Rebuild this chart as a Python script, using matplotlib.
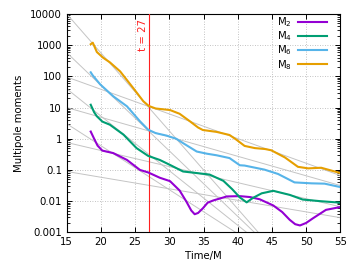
import numpy as np
import matplotlib
matplotlib.use("Agg")
import matplotlib.pyplot as plt

# multipole moments (time, log10 value)
t_m8 = [18.5, 18.8, 19.4, 20.3, 21.3, 22.8, 24.7, 26.2, 27.0, 28.0, 30.1, 31.5, 33.0, 34.2, 34.9,
        36.9, 38.8, 39.8, 41.0, 42.5, 44.0, 44.9, 46.9, 48.8, 50.3, 52.2, 55.0]
lg_m8 = [3.03, 3.08, 2.78, 2.60, 2.45, 2.16, 1.63, 1.20, 1.05, 0.97, 0.92, 0.80, 0.56, 0.36, 0.28,
         0.22, 0.12, -0.03, -0.23, -0.30, -0.33, -0.37, -0.60, -0.90, -0.95, -0.93, -1.10]

t_m6 = [18.5, 18.8, 19.9, 21.8, 23.8, 25.7, 26.9, 28.0, 29.6, 31.0, 32.0, 34.0, 35.5, 36.9,
        38.8, 40.3, 41.0, 43.9, 45.9, 48.3, 50.8, 52.7, 55.0]
lg_m6 = [2.13, 2.03, 1.74, 1.36, 1.04, 0.56, 0.29, 0.18, 0.10, 0.0, -0.14, -0.41, -0.48, -0.53,
         -0.62, -0.85, -0.86, -0.99, -1.13, -1.40, -1.43, -1.44, -1.55]

t_m4 = [18.5, 19.0, 19.4, 20.2, 21.3, 23.3, 25.2, 26.9, 28.6, 30.1, 32.0, 34.0, 35.9, 37.9, 39.2,
        40.3, 41.3, 42.2, 43.5, 45.2, 47.6, 49.5, 52.0, 55.0]
lg_m4 = [1.09, 0.85, 0.72, 0.55, 0.45, 0.13, -0.30, -0.55, -0.68, -0.84, -1.05, -1.10, -1.15, -1.35, -1.62,
         -1.88, -2.04, -1.90, -1.75, -1.67, -1.80, -1.95, -2.00, -2.05]

t_m2 = [18.5, 19.0, 19.5, 20.2, 21.8, 23.8, 25.7, 26.9, 28.6, 30.1, 31.5, 32.5, 33.2, 33.7, 34.2,
        34.9, 35.6, 36.4, 38.4, 40.3, 41.8, 43.2, 45.2, 46.5, 47.6, 48.4, 49.1, 50.0, 51.0,
        52.9, 55.0]
lg_m2 = [0.23, 0.0, -0.22, -0.38, -0.46, -0.68, -1.0, -1.08, -1.25, -1.36, -1.66, -2.02, -2.30, -2.42, -2.38,
         -2.23, -2.05, -1.98, -1.85, -1.84, -1.87, -1.94, -2.14, -2.35, -2.60, -2.74, -2.78, -2.70, -2.55,
         -2.28, -2.19]

# exponential fits: log10 value at t=15 and decay (dex per unit time)
fit_start = [4.0, 2.76, 1.60, 0.48, 1.98, 1.00, -0.12, -1.05]
fit_rate = [0.25, 0.21, 0.175, 0.141, 0.079, 0.0625, 0.0515, 0.037]

t_mark = 27
labels = ["M$_2$", "M$_4$", "M$_6$", "M$_8$"]
colors = ["#9400d3", "#009e73", "#56b4e9", "#e69f00"]

fig = plt.figure(figsize=(3.59, 2.69), dpi=100)
ax = fig.add_axes([0.186, 0.1364, 0.762, 0.8116])
fs = 7.3

tt = np.array([15.0, 55.0])
for a, b in zip(fit_start, fit_rate):
    ax.plot(tt, 10 ** (a - b * (tt - 15)), color="#c4c4c4", lw=0.7, zorder=2)

ax.axvline(t_mark, color="#ff2020", lw=0.8, zorder=3)
ax.text(t_mark - 0.8, 10 ** 3.34, "t = 27", color="#ff2020", rotation=90,
        ha="center", va="center", fontsize=fs)

series = [(t_m2, lg_m2), (t_m4, lg_m4), (t_m6, lg_m6), (t_m8, lg_m8)]
for (t, lg), c, lab in zip(series, colors, labels):
    ax.plot(t, 10 ** np.array(lg), color=c, lw=1.5, label=lab, zorder=4,
            solid_joinstyle="round")

ax.set_yscale("log")
ax.set_xlim(15, 55)
ax.set_ylim(0.001, 10000)
ax.set_xticks(np.arange(15, 56, 5))
ax.set_yticks([0.001, 0.01, 0.1, 1, 10, 100, 1000, 10000])
ax.set_yticklabels(["0.001", "0.01", "0.1", "1", "10", "100", "1000", "10000"])
ax.tick_params(which="both", direction="in", top=True, right=True, labelsize=fs)
ax.tick_params(which="major", length=3.5, width=0.7)
ax.tick_params(which="minor", length=2, width=0.6)
ax.tick_params(axis="x", which="minor", top=False, bottom=False)
ax.grid(True, which="major", ls=(0, (1, 2)), color="#b0b0b0", lw=0.6)
for s in ax.spines.values():
    s.set_linewidth(0.8)

ax.set_xlabel("Time/M", fontsize=fs, labelpad=3)
ax.set_ylabel("Multipole moments", fontsize=fs, labelpad=4)

ax.legend(loc="upper right", bbox_to_anchor=(0.953, 0.995), frameon=False,
          markerfirst=False, fontsize=fs, handlelength=2.9, handletextpad=0.6,
          labelspacing=0.05, borderpad=0, borderaxespad=0)

fig.savefig("out.png", dpi=100)
